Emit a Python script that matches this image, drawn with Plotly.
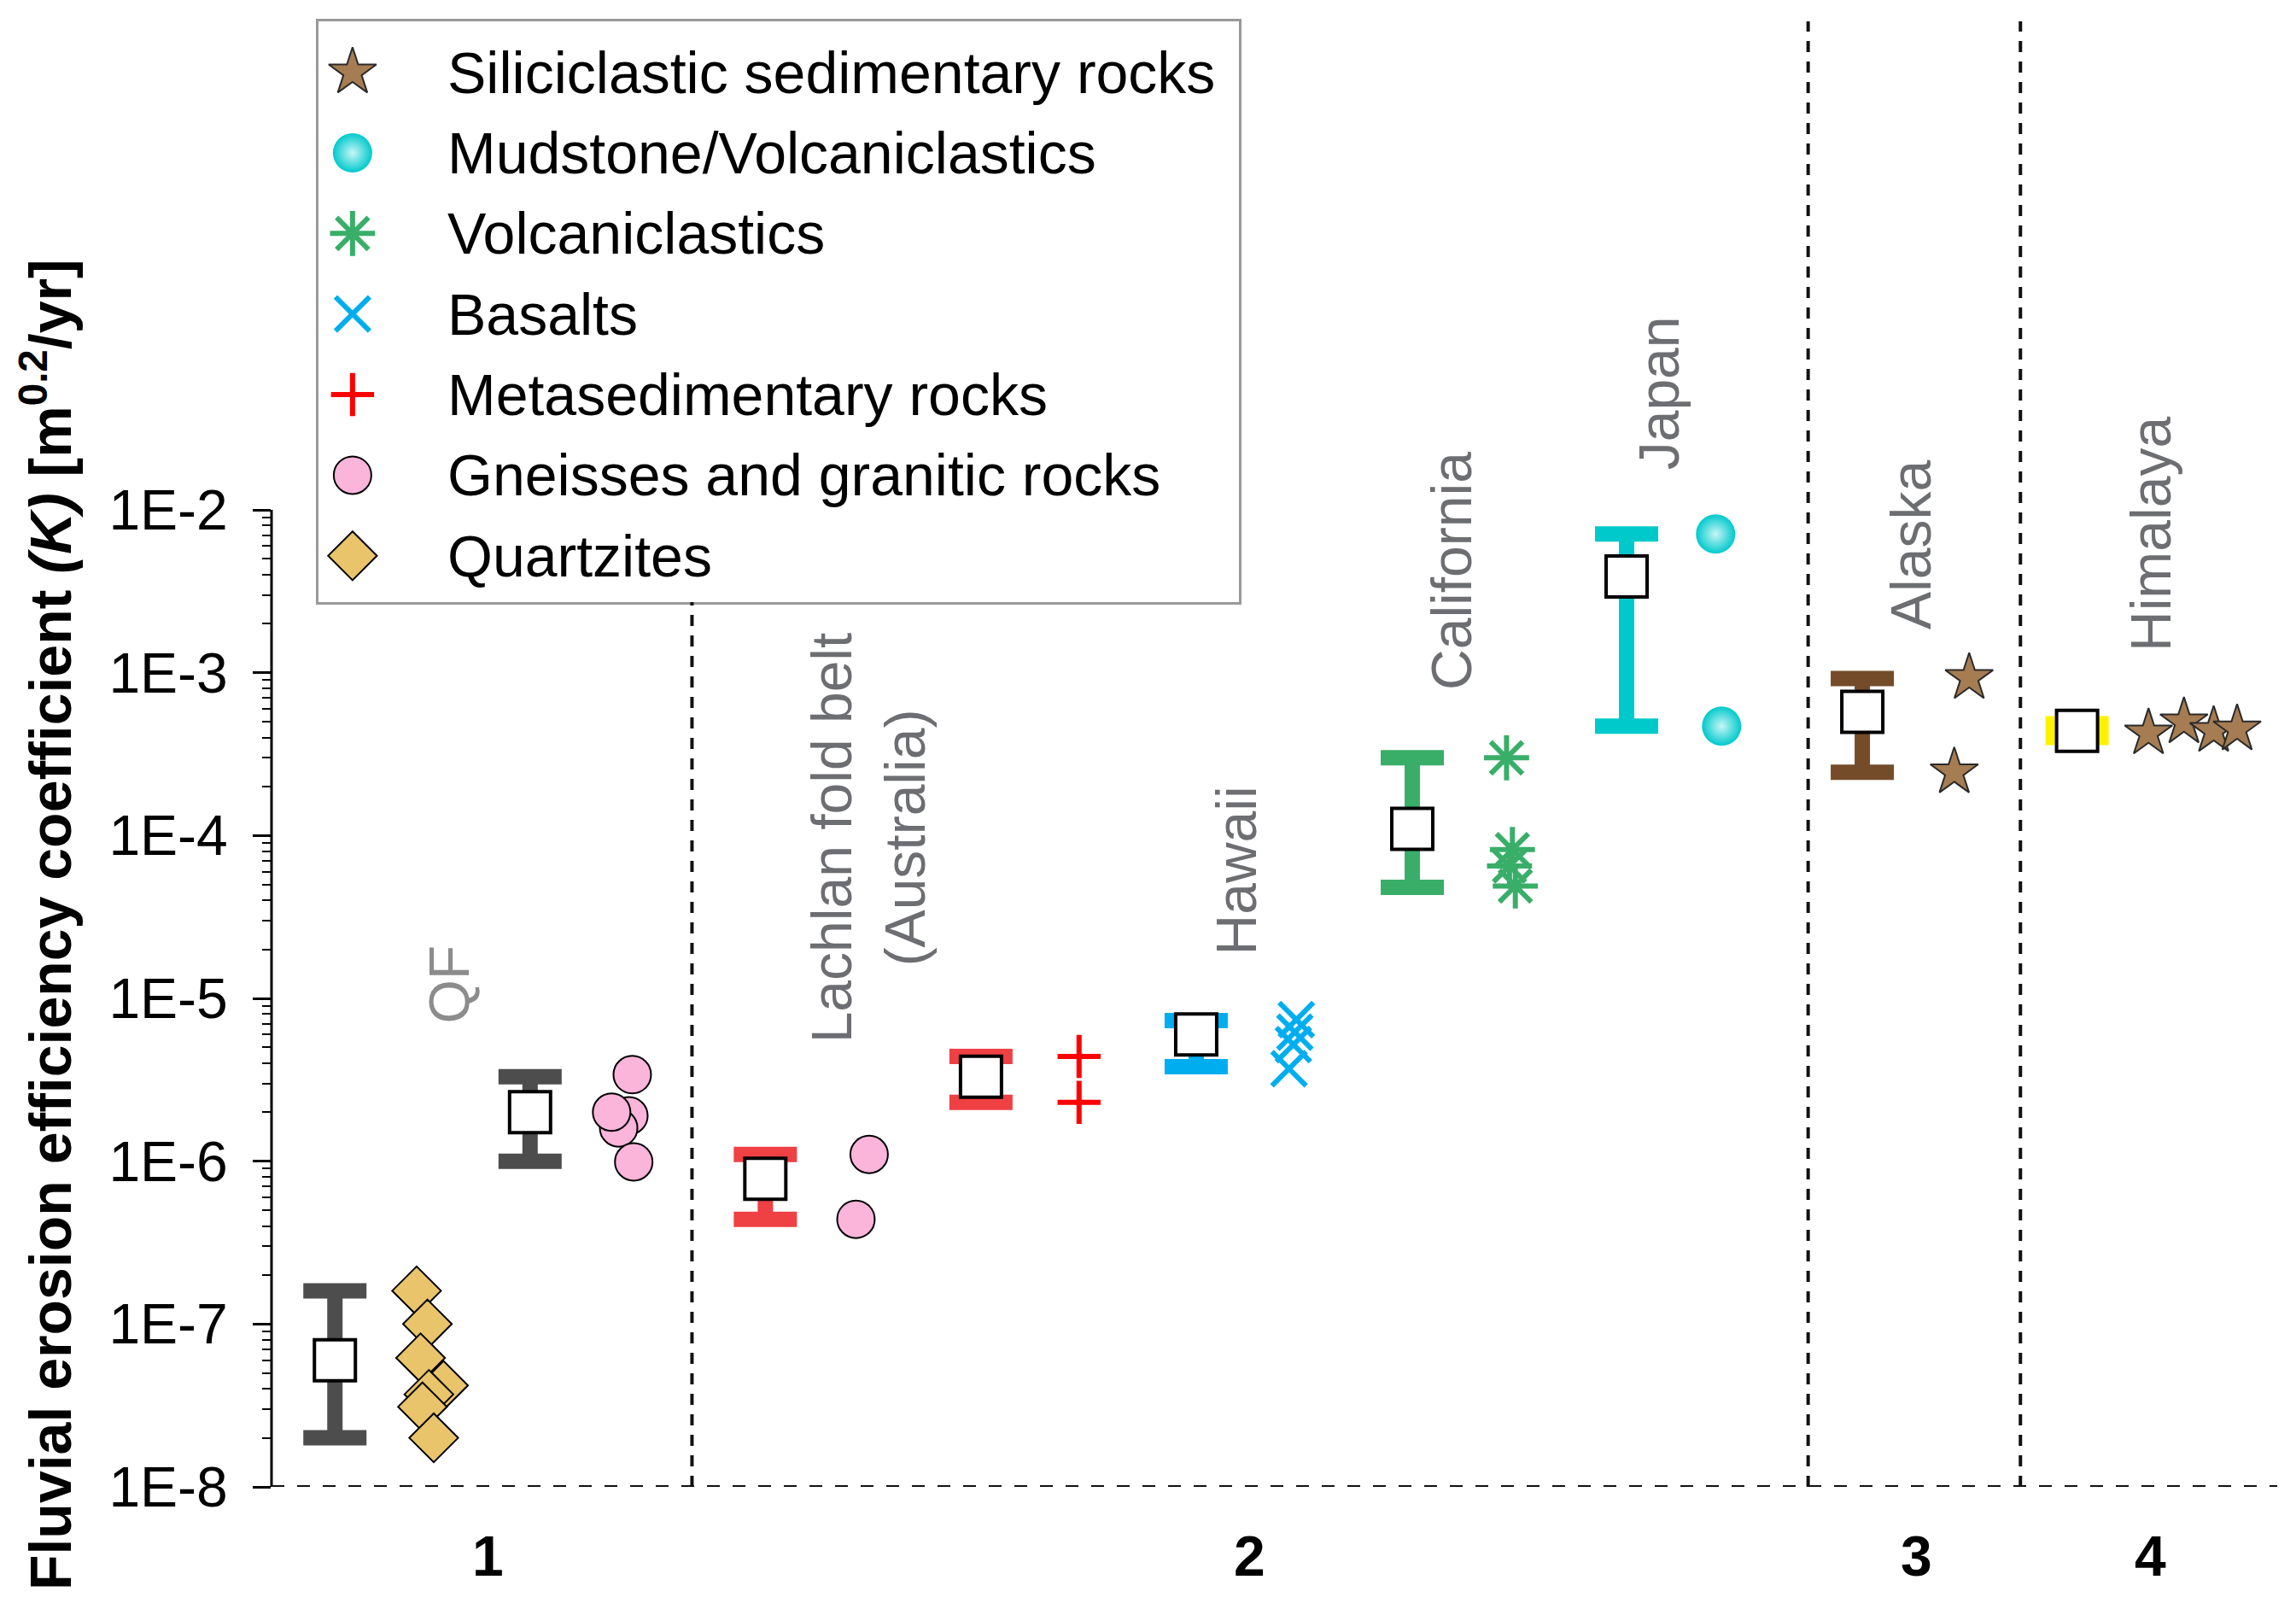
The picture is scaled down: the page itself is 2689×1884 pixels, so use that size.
import math
import plotly.graph_objects as go

FONT = "Liberation Sans, Arial, sans-serif"

# ---------------- data ----------------
# summary of each dataset: category position, mean, min, max
bar_x = [0.433, 1.766, 3.373, 4.846, 6.316, 7.792, 9.256, 10.866, 12.333]
bar_mean = [6.0e-8, 2.0e-6, 7.8e-7, 3.3e-6, 6.0e-6, 1.1e-4, 3.9e-3, 5.75e-4, 4.4e-4]
bar_low = [2.0e-8, 1.0e-6, 4.4e-7, 2.3e-6, 3.8e-6, 4.8e-5, 4.7e-4, 2.45e-4, 4.0e-4]
bar_high = [1.6e-7, 3.3e-6, 1.1e-6, 4.4e-6, 7.3e-6, 3.0e-4, 7.1e-3, 9.2e-4, 4.85e-4]

# individual values per lithology
silic_x = [11.596, 11.494, 12.821, 13.063, 13.266, 13.426]
silic_y = [9.3e-4, 2.45e-4, 4.25e-4, 4.97e-4, 4.4e-4, 4.5e-4]
mud_x = [9.864, 9.905]
mud_y = [7.1e-3, 4.7e-4]
volc_x = [8.436, 8.476, 8.456, 8.496]
volc_y = [3.0e-4, 8.2e-5, 6.5e-5, 4.9e-5]
basalt_x = [7.00, 6.99, 6.98, 6.95]
basalt_y = [7.4e-6, 6.2e-6, 5.2e-6, 3.7e-6]
metased_x = [5.516, 5.516]
metased_y = [4.4e-6, 2.3e-6]
gneiss_x = [2.464, 2.441, 2.371, 2.323, 2.474, 4.082, 3.992]
gneiss_y = [3.4e-6, 1.9e-6, 1.6e-6, 2.0e-6, 9.9e-7, 1.1e-6, 4.4e-7]
quartz_x = [0.991, 1.065, 1.018, 1.175, 1.075, 1.031, 1.108]
quartz_y = [1.6e-7, 1.0e-7, 6.2e-8, 4.2e-8, 3.7e-8, 3.1e-8, 2.0e-8]

legend_labels = ["Siliciclastic sedimentary rocks", "Mudstone/Volcaniclastics",
                 "Volcaniclastics", "Basalts", "Metasedimentary rocks",
                 "Gneisses and granitic rocks", "Quartzites"]

region_labels = ["QF", "Lachlan fold belt<br>(Australia)", "Hawaii", "California",
                 "Japan", "Alaska", "Himalaya"]
region_x = [1.216, 4.074, 6.593, 8.063, 9.476, 11.201, 12.836]

group_labels = ["1", "2", "3", "4"]
group_x = [1.476, 6.682, 11.233, 12.836]

divider_x = [2.872, 10.496, 11.946]

tick_vals = [1e-8, 1e-7, 1e-6, 1e-5, 1e-4, 1e-3, 1e-2]
tick_text = ["1E-8", "1E-7", "1E-6", "1E-5", "1E-4", "1E-3", "1E-2"]

# ---------------- styles ----------------
bar_colors = ["#4d4d4d", "#4d4d4d", "#ef4044", "#ef4044", "#00aeef",
              "#39ae69", "#00c9cc", "#754c29", "#fff200"]

styles = [
    dict(symbol="star", size=42, color="#a67c52", line=dict(color="#2a2a2a", width=2)),
    dict(symbol="circle", size=46, color="#00c9cc", line=dict(color="#00c9cc", width=0),
         gradient=dict(type="radial", color="#c8f6f6")),
    dict(symbol="asterisk-open", size=44, color="#39ae69", line=dict(color="#39ae69", width=6)),
    dict(symbol="x-thin-open", size=40, color="#00aeef", line=dict(color="#00aeef", width=6)),
    dict(symbol="cross-thin-open", size=36, color="#ff0000", line=dict(color="#ff0000", width=6)),
    dict(symbol="circle", size=44, color="#fbb4da", line=dict(color="#000000", width=2)),
    dict(symbol="diamond", size=44, color="#e9c46b", line=dict(color="#000000", width=2)),
]
series = [(silic_x, silic_y), (mud_x, mud_y), (volc_x, volc_y), (basalt_x, basalt_y),
          (metased_x, metased_y), (gneiss_x, gneiss_y), (quartz_x, quartz_y)]

fig = go.Figure()

# range bars
for xv, m, lo, hi, c in zip(bar_x, bar_mean, bar_low, bar_high, bar_colors):
    fig.add_trace(go.Scatter(
        x=[xv], y=[m], mode="markers", showlegend=False, hoverinfo="skip",
        marker=dict(size=1, color="rgba(0,0,0,0)"),
        error_y=dict(type="data", symmetric=False, array=[hi - m], arrayminus=[m - lo],
                     color=c, thickness=18, width=37)))

# mean squares
fig.add_trace(go.Scatter(
    x=bar_x, y=bar_mean, mode="markers", showlegend=False,
    marker=dict(symbol="square", size=48, color="white", line=dict(color="black", width=4))))

# individual points (draw quartzites first, siliciclastics last)
for (xs, ys), st, name in reversed(list(zip(series, styles, legend_labels))):
    fig.add_trace(go.Scatter(x=xs, y=ys, mode="markers", name=name, showlegend=False,
                             marker=st))

# ---------------- custom legend (own small axes) ----------------
for i, (st, name) in enumerate(zip(styles, legend_labels)):
    fig.add_trace(go.Scatter(x=[0.037], y=[i], mode="markers", marker=st, showlegend=False,
                             xaxis="x2", yaxis="y2", hoverinfo="skip"))

annotations = []
for i, name in enumerate(legend_labels):
    annotations.append(dict(x=0.138, y=i, xref="x2", yref="y2", text=name, showarrow=False,
                            xanchor="left", yanchor="middle",
                            font=dict(family=FONT, size=68, color="black")))

# region labels (rotated, grey)
region_pos = [(-5.168, "bottom"), (-4.013, "middle"), (-4.743, "bottom"), (-3.117, "bottom"),
              (-1.767, "bottom"), (-2.747, "bottom"), (-2.879, "bottom")]
region_colors = ["#8c8c8c"] + ["#6d6e71"] * 6
for lab, xv, (yl, anc), col in zip(region_labels, region_x, region_pos, region_colors):
    annotations.append(dict(x=xv, y=yl, xref="x", yref="y", text=lab, showarrow=False,
                            textangle=-90, xanchor="center", yanchor=anc, align="center",
                            font=dict(family=FONT, size=66, color=col)))

# group numbers
for lab, xv in zip(group_labels, group_x):
    annotations.append(dict(x=xv, y=0, xref="x", yref="paper", yshift=-81, text="<b>%s</b>" % lab,
                            showarrow=False, xanchor="center", yanchor="middle",
                            font=dict(family=FONT, size=66, color="black")))

# y-axis title
annotations.append(dict(x=0, xref="paper", xshift=-263, y=0.3834, yref="paper",
                        text="<b>Fluvial erosion efficiency coefficient <i>(K)</i> [m<sup>0.2</sup>/yr]</b>",
                        textangle=-90, showarrow=False, xanchor="center", yanchor="middle",
                        font=dict(family=FONT, size=68, color="black")))

# ---------------- shapes ----------------
shapes = []
# left axis spine, only between 1E-8 and 1E-2
shapes.append(dict(type="line", xref="paper", yref="y", x0=0, x1=0,
                   y0=tick_vals[0], y1=tick_vals[-1], line=dict(color="black", width=3)))
# dashed base line
shapes.append(dict(type="line", xref="paper", yref="y", x0=0, x1=1,
                   y0=tick_vals[0], y1=tick_vals[0],
                   line=dict(color="#111111", width=4, dash="15px,15px")))
# dashed dividers (first one stops at the legend box)
legend_bottom = 10 ** (-2.566)
for k, xv in enumerate(divider_x):
    if k == 0:
        shapes.append(dict(type="line", xref="x", yref="y", x0=xv, x1=xv,
                           y0=tick_vals[0], y1=legend_bottom,
                           line=dict(color="#111111", width=4, dash="13px,11px")))
    else:
        shapes.append(dict(type="line", xref="x", yref="paper", x0=xv, x1=xv,
                           y0=0, y1=1,
                           line=dict(color="#111111", width=4, dash="13px,11px")))

minor_vals = [k * 10 ** e for e in range(-8, -2) for k in range(2, 10)]

# the page body adds an 8px margin around the figure, so the figure is 16px smaller
fig.update_layout(
    width=2673, height=1868,
    margin=dict(l=310, r=14, t=17, b=135),
    paper_bgcolor="white", plot_bgcolor="white",
    font=dict(family=FONT, color="black"),
    showlegend=False,
    xaxis=dict(range=[0, 13.7], visible=False, showgrid=False, zeroline=False),
    yaxis=dict(type="log", range=[-8, 1.0], showgrid=False, zeroline=False, showline=False,
               tickmode="array", tickvals=tick_vals, ticktext=tick_text,
               ticks="outside", ticklen=21, tickwidth=2.5, tickcolor="black",
               ticklabelstandoff=16,
               tickfont=dict(family=FONT, size=66, color="black"),
               minor=dict(tickmode="array", tickvals=minor_vals, ticks="outside",
                          ticklen=10, tickwidth=2, tickcolor="black", showgrid=False)),
    xaxis2=dict(domain=[0.02341, 0.48233], range=[0, 1], anchor="y2",
                showline=True, mirror=True, linecolor="#999999", linewidth=3,
                showticklabels=False, ticks="", showgrid=False, zeroline=False),
    yaxis2=dict(domain=[0.6037, 1.0], range=[6.575, -0.632], anchor="x2",
                showline=True, mirror=True, linecolor="#999999", linewidth=3,
                showticklabels=False, ticks="", showgrid=False, zeroline=False),
    annotations=annotations,
    shapes=shapes,
)

fig.write_html("out.html")
